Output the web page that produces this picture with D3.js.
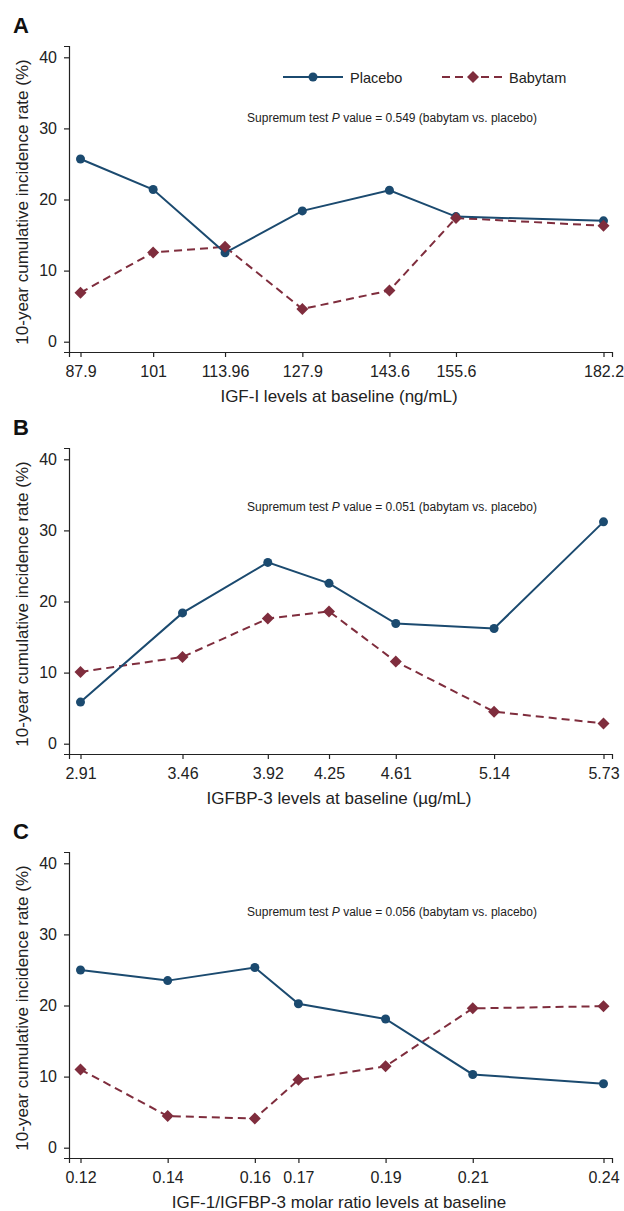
<!DOCTYPE html>
<html>
<head>
<meta charset="utf-8">
<script src="https://cdn.jsdelivr.net/npm/d3@7"></script>
<style>
  body { margin: 0; background: #fff; }
  svg { display: block; font-family: "Liberation Sans", Arial, Helvetica, sans-serif; }
</style>
</head>
<body>
<svg id="chart" width="624" height="1211"></svg>
<script>
// values
const yTicks = [0, 10, 20, 30, 40];

const igfLevels = [87.9, 101, 113.96, 127.9, 143.6, 155.6, 182.2];
const placeboA = [25.7, 21.4, 12.5, 18.4, 21.3, 17.6, 17.0];
const babytamA = [6.9, 12.55, 13.35, 4.6, 7.2, 17.4, 16.3];

const igfbpLevels = [2.91, 3.46, 3.92, 4.25, 4.61, 5.14, 5.73];
const placeboB = [5.85, 18.4, 25.5, 22.55, 16.9, 16.2, 31.2];
const babytamB = [10.1, 12.2, 17.6, 18.6, 11.55, 4.5, 2.85];

const ratioLevels = [0.12, 0.14, 0.16, 0.17, 0.19, 0.21, 0.24];
const placeboC = [25.0, 23.5, 25.35, 20.25, 18.1, 10.3, 9.0];
const babytamC = [11.0, 4.45, 4.1, 9.55, 11.45, 19.6, 19.9];

const pValues = ["0.549", "0.051", "0.056"];
const xTitles = [
  "IGF-I levels at baseline (ng/mL)",
  "IGFBP-3 levels at baseline (\u00b5g/mL)",
  "IGF-1/IGFBP-3 molar ratio levels at baseline"
];
const yTitle = "10-year cumulative incidence rate (%)";

const navy = "#1b4a6f", maroon = "#7f2d3d", ink = "#222";

const svg = d3.select("#chart");

let drawPanel = (opts) => {
  let g = svg.append("g").attr("transform", `translate(0,${opts.top})`);

  // x: first/last level at fixed pixel, axis line a bit wider
  let x = d3.scaleLinear().domain(d3.extent(opts.levels)).range([80.5, 603.5]);
  x.domain([x.invert(69), x.invert(612)]).range([69, 612]);
  let y = d3.scaleLinear().domain([0, 40]).range([341.7, 57.3]);
  y.domain([y.invert(352), y.invert(46)]).range([352, 46]);

  g.append("text").attr("x", 13).attr("y", 33)
    .attr("font-size", 22).attr("font-weight", "bold").attr("fill", "#111")
    .text(opts.letter);

  let xa = g.append("g").attr("transform", "translate(0,352)")
    .call(d3.axisBottom(x).tickValues(opts.levels).tickSizeOuter(0).tickSize(5).tickPadding(9)
      .tickFormat(d => String(d)));
  let ya = g.append("g").attr("transform", "translate(69,0)")
    .call(d3.axisLeft(y).tickValues(yTicks).tickSizeOuter(0).tickSize(5).tickPadding(7));
  [xa, ya].forEach(a => {
    a.attr("font-family", null).attr("font-size", 16);
    a.selectAll("path, line").attr("stroke", ink).attr("stroke-width", 1.2);
    a.selectAll("text").attr("fill", ink);
  });

  g.append("text").attr("x", 339).attr("y", 402).attr("text-anchor", "middle")
    .attr("font-size", 17).attr("fill", ink).text(opts.xTitle);
  g.append("text").attr("transform", "translate(28,202) rotate(-90)")
    .attr("text-anchor", "middle").attr("font-size", 17).attr("fill", ink).text(yTitle);

  let ann = g.append("text").attr("x", 392).attr("y", opts.noteY).attr("text-anchor", "middle")
    .attr("font-size", 12).attr("fill", ink);
  ann.append("tspan").text("Supremum test ");
  ann.append("tspan").attr("font-style", "italic").text("P");
  ann.append("tspan").text(` value = ${opts.p} (babytam vs. placebo)`);

  let line = d3.line().x(d => x(d[0])).y(d => y(d[1]));
  let placebo = opts.levels.map((v, i) => [v, opts.placebo[i]]);
  let babytam = opts.levels.map((v, i) => [v, opts.babytam[i]]);

  g.append("path").datum(babytam).attr("d", line).attr("fill", "none")
    .attr("stroke", maroon).attr("stroke-width", 2).attr("stroke-dasharray", "8,5");
  g.append("path").datum(placebo).attr("d", line).attr("fill", "none")
    .attr("stroke", navy).attr("stroke-width", 2);

  g.selectAll(".pt").data(placebo).enter().append("circle")
    .attr("cx", d => x(d[0])).attr("cy", d => y(d[1])).attr("r", 4.5).attr("fill", navy);
  g.selectAll(".bt").data(babytam).enter().append("path")
    .attr("d", d3.symbol(d3.symbolSquare, 72))
    .attr("transform", d => `translate(${x(d[0])},${y(d[1])}) rotate(45)`)
    .attr("fill", maroon);

  if (opts.legend) {
    let lg = g.append("g").attr("transform", "translate(0,77)");
    lg.append("line").attr("x1", 283).attr("x2", 343).attr("stroke", navy).attr("stroke-width", 2);
    lg.append("circle").attr("cx", 313).attr("r", 4.5).attr("fill", navy);
    lg.append("text").attr("x", 350).attr("y", 5.5).attr("font-size", 14.5).attr("fill", ink).text("Placebo");
    lg.append("line").attr("x1", 442).attr("x2", 503).attr("stroke", maroon).attr("stroke-width", 2)
      .attr("stroke-dasharray", "8,5");
    lg.append("path").attr("d", d3.symbol(d3.symbolSquare, 72)).attr("transform", "translate(473,0) rotate(45)")
      .attr("fill", maroon);
    lg.append("text").attr("x", 509).attr("y", 5.5).attr("font-size", 14.5).attr("fill", ink).text("Babytam");
  }
};

drawPanel({ top: 0, letter: "A", levels: igfLevels, placebo: placeboA, babytam: babytamA,
  xTitle: xTitles[0], p: pValues[0], noteY: 122, legend: true });
drawPanel({ top: 402, letter: "B", levels: igfbpLevels, placebo: placeboB, babytam: babytamB,
  xTitle: xTitles[1], p: pValues[1], noteY: 109 });
drawPanel({ top: 806, letter: "C", levels: ratioLevels, placebo: placeboC, babytam: babytamC,
  xTitle: xTitles[2], p: pValues[2], noteY: 110 });
</script>
</body>
</html>
